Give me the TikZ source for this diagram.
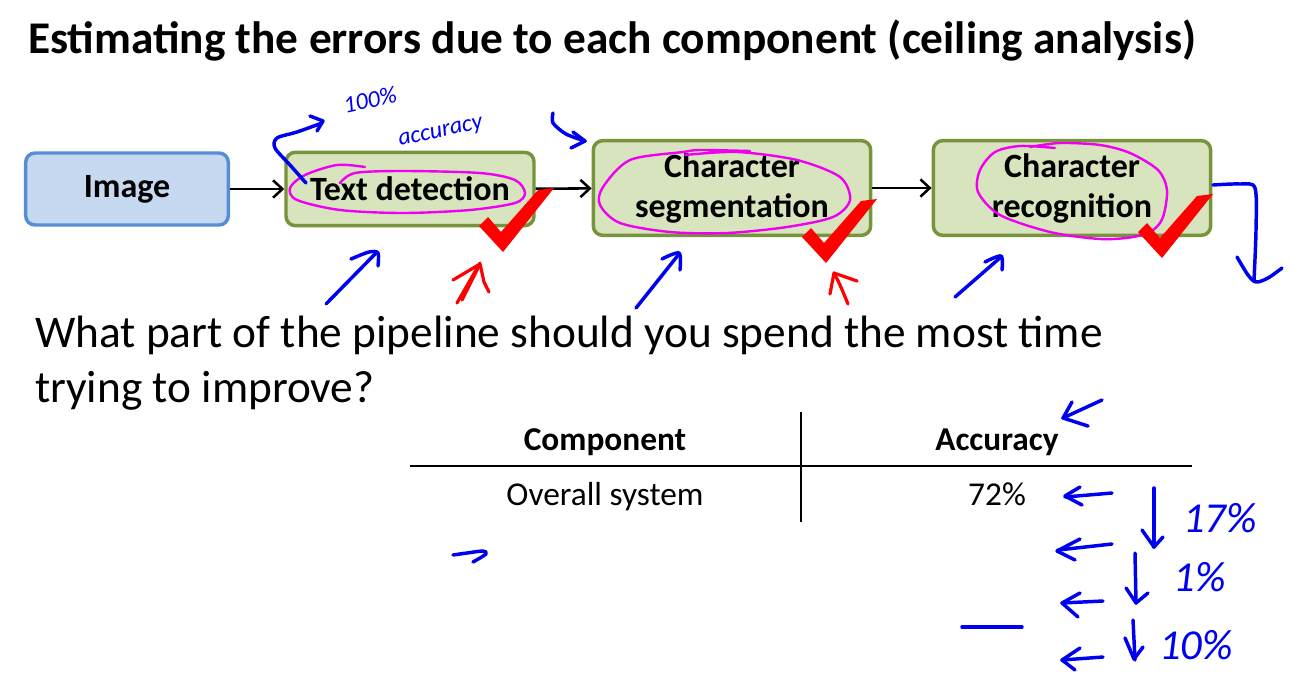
\documentclass[tikz,border=0pt]{standalone}
\usepackage{fontspec}
\setmainfont{Carlito}
\usetikzlibrary{arrows.meta,positioning}

\definecolor{imgfill}{HTML}{C6D9F1}
\definecolor{imgline}{HTML}{558ED5}
\definecolor{compfill}{HTML}{D7E4BD}
\definecolor{compline}{HTML}{77933C}
\definecolor{inkblue}{HTML}{0000F0}
\definecolor{inkpink}{HTML}{F000F0}
\definecolor{inkred}{HTML}{FF0000}

\begin{document}
\begin{tikzpicture}[
    x=0.75pt, y=-0.75pt,
    block/.style={draw, rounded corners=7pt, line width=2.6pt, align=center, font=\fontsize{25.5}{30}\selectfont\bfseries},
    imgbox/.style={block, fill=imgfill, draw=imgline, minimum width=152pt, minimum height=54pt},
    compbox/.style={block, fill=compfill, draw=compline, minimum width=186pt, minimum height=55pt},
    widebox/.style={compbox, minimum width=208pt, minimum height=71pt},
    flow/.style={-{Straight Barb[length=7pt, width=13pt]}, line width=1.9pt},
    cell/.style={anchor=base, font=\fontsize{25}{30}\selectfont},
    head/.style={cell, font=\fontsize{25}{30}\selectfont\bfseries},
    pen/.style={inkblue, line width=2.6pt, line cap=round, line join=round},
    marker/.style={inkpink, line width=1.8pt, line cap=round, line join=round},
    redpen/.style={inkred, line width=2.4pt, line cap=round, line join=round},
    scrawl/.style={inkblue, inner sep=0pt, font=\fontsize{18}{18}\selectfont\itshape},
    bigscrawl/.style={scrawl, font=\fontsize{32}{32}\selectfont\itshape}
]
\useasboundingbox (0,0) rectangle (1292,683);

\node[anchor=base west, inner sep=0pt, font=\fontsize{34}{40}\selectfont\bfseries] (title) at (28,53) {Estimating the errors due to each component (ceiling analysis)};

\node[imgbox] (img) at (127,189) {Image};
\node[compbox] (textdet) at (410,189) {Text detection};
\node[widebox] (charseg) at (732,188) {Character\\segmentation};
\node[widebox] (charrec) at (1072,188) {Character\\recognition};

\draw[flow] (img) -- (textdet);
\draw[flow] (textdet) -- (charseg);
\draw[flow] (charseg) -- (charrec);

\node[anchor=base west, inner sep=0pt, font=\fontsize{34}{41}\selectfont] (question) at (35,347) {What part of the pipeline should you spend the most time};
\node[anchor=base west, inner sep=0pt, font=\fontsize{34}{41}\selectfont] (question2) at (35,402) {trying to improve?};

\node[head] (colcomp) at (605,450) {Component};
\node[head] (colacc) at (997,450) {Accuracy};
\node[cell] (overall) at (605,505) {Overall system};
\node[cell] (overacc) at (997,505) {72\%};
\draw[line width=1.5pt] (410,466) -- (1192,466);
\draw[line width=1.1pt] (801,412) -- (801,522);

\draw[marker] plot[smooth] coordinates {(365,167) (337,165) (305,175) (290,188) (297,200) (340,210) (403,213) (470,210) (515,203) (525,193) (515,180) (480,173) (403,171) (355,173) (340,183)};
\draw[marker] plot[smooth] coordinates {(750,151) (700,150) (683,152) (630,160) (603,187) (600,205) (620,223) (670,232) (727,233) (787,227) (833,217) (850,200) (840,177) (797,160) (737,152) (685,155)};
\draw[marker] plot[smooth] coordinates {(1055,148) (1020,146) (995,152) (980,170) (978,192) (1000,215) (1050,232) (1100,239) (1133,237) (1153,230) (1163,217) (1167,190) (1158,170) (1130,153) (1100,145) (1060,143) (1030,147)};

\fill[inkred, shift={(503,252)}] (0,0) -- (-24,-26) -- (-15,-35) -- (-2,-20) -- (35,-62) -- (51,-64) -- cycle;
\fill[inkred, shift={(826,263)}] (0,0) -- (-24,-26) -- (-15,-35) -- (-2,-20) -- (35,-62) -- (51,-64) -- cycle;
\fill[inkred, shift={(1162,258)}] (0,0) -- (-24,-26) -- (-15,-35) -- (-2,-20) -- (35,-62) -- (51,-64) -- cycle;

\draw[pen] plot[smooth] coordinates {(306,183) (290,165) (275,148) (277,138) (297,132) (322,123)};
\draw[pen] (310,116) -- (323,121) -- (317,131);
\node[scrawl, rotate=12] (hundred) at (370,100) {100\%};
\node[scrawl, rotate=12] (accnote) at (441,133) {accuracy};
\draw[pen] plot[smooth] coordinates {(553,113) (553,123) (566,134) (585,141)};
\draw[pen] (573,132) -- (585,141) -- (571,148);

\draw[pen] (326,304) -- (377,252);
\draw[pen] plot[smooth] coordinates {(351,259) (369,252) (378,253) (378,266)};
\draw[pen] (636,308) -- (679,254);
\draw[pen] plot[smooth] coordinates {(662,259) (679,253) (680,270)};
\draw[pen] (955,297) -- (1001,257);
\draw[pen] plot[smooth] coordinates {(985,262) (1001,256) (1002,270)};
\draw[pen] plot[smooth] coordinates {(1213,185) (1240,184) (1255,188) (1256,230) (1254,280)};
\draw[pen] plot[smooth] coordinates {(1237,257) (1248,275) (1256,282) (1268,278) (1282,268)};

\draw[redpen] (457,303) -- (480,263);
\draw[redpen] (462,300) -- (478,268);
\draw[redpen] (453,280) -- (480,264) -- (484,282) -- (489,292);
\draw[redpen] plot[smooth] coordinates {(848,304) (840,285) (834,273)};
\draw[redpen] (830,294) -- (834,273) -- (857,281);

\draw[pen] (1102,400) -- (1063,418);
\draw[pen] (1072,402) -- (1063,418) -- (1088,426);
\draw[pen] (1112,493) -- (1065,497);
\draw[pen] (1080,487) -- (1065,496) -- (1082,505);
\draw[pen] (1112,544) -- (1058,550);
\draw[pen] (1080,539) -- (1057,551) -- (1075,560);
\draw[pen] (1103,601) -- (1062,603);
\draw[pen] (1080,593) -- (1062,603) -- (1078,617);
\draw[pen] (1103,657) -- (1062,660);
\draw[pen] (1080,648) -- (1062,660) -- (1075,670);
\draw[pen] (962,627) -- (1022,627);

\draw[pen] (1154,488) -- (1154,547);
\draw[pen] (1142,530) -- (1154,547) -- (1163,537);
\draw[pen] (1135,553) -- (1136,603);
\draw[pen] (1126,588) -- (1136,603) -- (1148,593);
\draw[pen] (1133,620) -- (1135,660);
\draw[pen] (1125,638) -- (1134,659) -- (1143,647);
\node[bigscrawl] (drop1) at (1220,518) {17\%};
\node[bigscrawl] (drop2) at (1200,577) {1\%};
\node[bigscrawl] (drop3) at (1196,645) {10\%};

\draw[pen] plot[smooth] coordinates {(453,555) (467,553) (483,551) (486,554) (473,562)};
\end{tikzpicture}
\end{document}
